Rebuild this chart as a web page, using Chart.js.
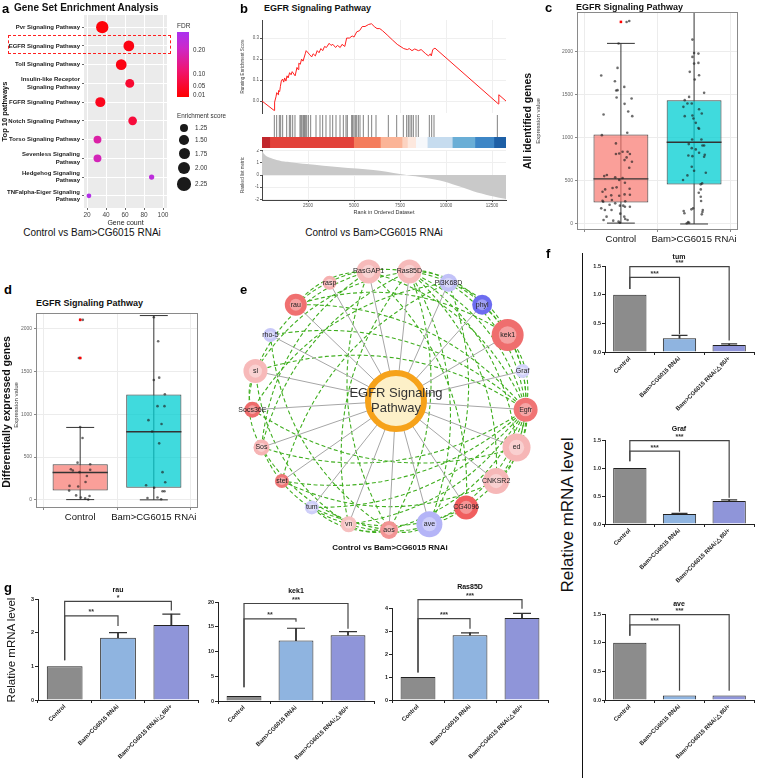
<!DOCTYPE html>
<html lang="en">
<head>
<meta charset="UTF-8">
<title>EGFR signaling pathway, Control vs Bam>CG6015 RNAi</title>
<script src="https://cdn.jsdelivr.net/npm/chart.js"></script>
<style>
  body { margin: 0; background: #fff; font-family: "Liberation Sans", Arial, sans-serif; }
  #fig { position: relative; width: 758px; height: 781px; overflow: hidden; background: #fff; }
  #fig canvas { position: absolute; }
  .t { position: absolute; white-space: nowrap; line-height: 1; color: #111; }
</style>
</head>
<body>
<div id="fig"></div>
<script>
// ---- a: gene set enrichment
const pathwayNames = [
  ['Pvr Signaling Pathway'], ['EGFR Signaling Pathway'], ['Toll Signaling Pathway'],
  ['Insulin-like Receptor', 'Signaling Pathway'], ['FGFR Signaling Pathway'], ['Notch Signaling Pathway'],
  ['Torso Signaling Pathway'], ['Sevenless Signaling', 'Pathway'], ['Hedgehog Signaling', 'Pathway'],
  ['TNFalpha-Eiger Signaling', 'Pathway']
];
const geneCount = [36, 64, 56, 65, 34, 68, 31, 31, 88, 22];
const enrichScore = [2.0, 1.7, 1.7, 1.35, 1.55, 1.3, 1.15, 1.15, 0.65, 0.55];
const fdrValue = [0.01, 0.02, 0.02, 0.05, 0.03, 0.06, 0.17, 0.19, 0.24, 0.26];
const geneCountTicks = [20, 40, 60, 80, 100];
const fdrTicks = [0.20, 0.10, 0.05, 0.01];
const sizeTicks = [1.25, 1.50, 1.75, 2.00, 2.25];

// ---- b: GSEA running score
const esRank = [0, 660, 670, 700, 760, 800, 880, 900, 960, 1000, 1050, 1120, 1180, 1230, 1300, 1360, 1420, 1500,
  1580, 1640, 1800, 1900, 1960, 2000, 2080, 2150, 2230, 2350, 2400, 2600, 2700, 2780, 2900, 3000, 3100, 3200, 3300,
  3400, 3500, 3650, 3750, 3850, 4000, 4100, 4250, 4350, 4500, 4600, 4750, 4900, 5000, 5150, 5300, 5450, 5600, 5800,
  5950, 6100, 6250, 6400, 6550, 6800, 7100, 7350, 7700, 7900, 8000, 8150, 8300, 8500, 8650, 8900, 9050, 9150, 9200,
  9280, 9400, 12850, 12870, 13260];
const esScore = [0.0, -0.045, -0.02, -0.005, 0.02, 0.04, 0.03, 0.05, 0.045, 0.07, 0.095, 0.105, 0.09, 0.11, 0.095,
  0.12, 0.11, 0.135, 0.125, 0.14, 0.12, 0.16, 0.15, 0.18, 0.175, 0.2, 0.19, 0.225, 0.24, 0.22, 0.21, 0.225, 0.215,
  0.24, 0.23, 0.25, 0.24, 0.26, 0.255, 0.275, 0.265, 0.27, 0.255, 0.265, 0.255, 0.27, 0.26, 0.3, 0.3, 0.31, 0.305,
  0.33, 0.335, 0.355, 0.355, 0.365, 0.368, 0.355, 0.345, 0.345, 0.335, 0.315, 0.29, 0.27, 0.25, 0.245, 0.25, 0.24,
  0.248, 0.24, 0.245, 0.225, 0.215, 0.225, 0.215, 0.245, 0.252, -0.014, 0.03, 0.0];
const hitRank = [670, 797, 942, 1014, 1123, 1341, 1486, 1558, 1667, 1793, 2065, 2120, 2174, 2246, 2301, 2355, 2428,
  2518, 2645, 2935, 3152, 3297, 3478, 3696, 3841, 4022, 4239, 4420, 4565, 4638, 4873, 4928, 5000, 5073, 5145, 5236,
  5326, 5507, 5779, 5960, 6196, 6866, 7319, 7681, 7862, 7953, 8043, 8134, 8225, 8370, 8496, 9094, 9221, 9348, 12790];
const bandEdge = [0, 420, 4980, 6430, 7610, 7900, 8350, 8980, 10340, 11570, 12600, 13260];
const bandColor = ['#c1272d', '#e2423a', '#f47c5c', '#fbb497', '#fcd3c1', '#fde8de', '#f6f8fb', '#c6dcef',
  '#6aaed6', '#3d86c6', '#1d5fa6'];
const metricRank = [0, 100, 300, 670, 1200, 1560, 2430, 4240, 6050, 7500, 7860, 8500, 9670, 10570, 11480, 12390, 13260];
const metricValue = [2.0, 1.75, 1.5, 1.3, 1.1, 1.05, 0.9, 0.63, 0.4, 0.08, 0.0, -0.15, -0.46, -0.87, -1.33, -1.7, -1.96];
const rankTicks = [2500, 5000, 7500, 10000, 12500];
const esTicks = [0, 0.1, 0.2, 0.3];
const metricTicks = [-2, -1, 0, 1, 2];

// ---- c / d: expression box plots
const boxGroups = ['Control', 'Bam>CG6015 RNAi'];
const allQ1 = [250, 460], allMedian = [525, 950], allQ3 = [1040, 1440], allLow = [10, 0], allHigh = [2100, 2480];
const allCtrlValue = [2349, 2361, 2098, 1815, 1726, 1660, 1594, 1556, 1552, 1471, 1459, 1397, 1308, 1273, 1254,
  1060, 1033, 937, 840, 840, 820, 813, 813, 774, 743, 724, 654, 569, 557, 542, 534, 511, 480, 426, 418, 410, 402,
  375, 344, 340, 333, 329, 317, 279, 271, 263, 259, 240, 224, 213, 201, 201, 213, 182, 163, 163, 120, 85, 85, 58,
  46, 46, 39, 27, 15];
const allCtrlJitter = [0.078, 0.114, -0.032, -0.046, -0.269, -0.082, 0.046, -0.046, -0.064, -0.059, 0.146, 0.05,
  0.1, -0.237, 0.155, 0.087, -0.26, -0.068, 0.023, 0.091, -0.023, -0.068, 0.123, 0.078, 0.05, 0.151, 0.114, -0.192,
  -0.228, -0.078, 0.023, -0.023, 0.055, -0.059, -0.114, 0.119, -0.215, -0.251, 0.05, 0.123, -0.132, -0.023, -0.205,
  -0.123, -0.251, 0.059, -0.242, -0.078, -0.155, 0.032, 0.055, 0.123, -0.014, -0.269, -0.128, -0.219, -0.009,
  -0.196, 0.046, 0.059, 0.091, -0.237, -0.105, -0.032, -0.014];
const allBamValue = [2144, 1989, 1981, 1943, 1865, 1873, 1769, 1730, 1680, 1525, 1478, 1440, 1362, 1401, 1401, 1335,
  1285, 1254, 1262, 1227, 1176, 1115, 1107, 983, 983, 929, 913, 913, 882, 867, 828, 797, 789, 805, 782, 666, 619,
  596, 565, 511, 472, 461, 402, 364, 317, 267, 182, 170, 163, 151, 124, 112, 139, 23, 15, 8];
const allBamJitter = [-0.023, 0, 0.059, -0.023, 0, 0.059, -0.059, 0.068, 0.009, 0.137, -0.068, -0.128, -0.146,
  -0.091, -0.032, 0.068, 0.105, -0.128, -0.023, -0.009, 0.023, 0.059, 0.068, 0.1, -0.027, -0.073, 0.114, 0.137,
  -0.032, 0.023, 0.068, -0.078, -0.023, 0.146, 0.137, -0.032, 0, 0.16, -0.091, -0.151, 0.11, 0.091, 0.091, 0.064,
  0.091, 0.096, -0.014, -0.037, 0.119, -0.142, -0.132, 0.105, 0.114, -0.082, -0.068, -0.1];
const allOutlier = [2350];
const allTicks = [0, 500, 1000, 1500, 2000];

const degQ1 = [110, 142], degMedian = [320, 795], degQ3 = [415, 1228], degLow = [3, 0], degHigh = [845, 2150];
const degCtrlValue = [2100, 2100, 1655, 1655, 850, 722, 434, 416, 357, 343, 323, 350, 278, 208, 163, 156, 108, 52, 45, 28, 17, 3];
const degCtrlJitter = [0, 0.036, -0.018, 0, 0, 0.032, -0.036, 0.136, -0.127, -0.1, -0.009, 0.136, 0.091, 0.073,
  -0.145, -0.027, -0.15, -0.055, 0.127, 0.009, 0.068, 0.109];
const degBamValue = [2130, 1850, 1398, 1426, 1232, 1093, 1093, 930, 885, 798, 659, 323, 205, 170, 142, 100, 100, 21, 28, 7];
const degBamJitter = [0, 0.059, 0, 0.073, 0.15, 0.05, 0.145, -0.073, 0.105, -0.023, 0.073, 0.118, 0.155, -0.105,
  0.005, 0.118, 0.145, -0.086, 0.05, 0.1];
const degOutlier = [2100, 1655];

// ---- e: network (alphabetical circular layout)
const geneNodes = ['aos', 'ave', 'CG4096', 'CNKSR2', 'ed', 'Egfr', 'Graf', 'kek1', 'phyl', 'Pi3K68D', 'Ras85D',
  'RasGAP1', 'rasp', 'rau', 'rho-5', 'sl', 'Socs36E', 'Sos', 'stet', 'tum', 'vn'];
const nodeSize = [9, 13, 12, 13, 14, 12, 7, 16, 10, 9, 12, 12, 7, 11, 7, 12, 8, 8, 7, 7, 8];
const nodeColor = ['#f29494', '#b4b4f7', '#f05e5e', '#f6b8b8', '#f6b6b6', '#f07474', '#d2d2fa', '#ef6e6e',
  '#6c6cf0', '#c2c2f8', '#f6baba', '#f6baba', '#f6b0b0', '#f07070', '#c8c8f8', '#f7b9b9', '#ee6c6c', '#f6b4b4',
  '#ef7878', '#cfcff9', '#f6c0c0'];
const greenEdges = [
  ['Egfr', 'kek1'], ['Egfr', 'phyl'], ['Egfr', 'Pi3K68D'], ['Egfr', 'Ras85D'], ['Egfr', 'RasGAP1'], ['Egfr', 'rau'],
  ['Egfr', 'rho-5'], ['Egfr', 'sl'], ['Egfr', 'Sos'], ['Egfr', 'stet'], ['Egfr', 'tum'], ['Egfr', 'vn'],
  ['Egfr', 'aos'], ['Egfr', 'ave'], ['Egfr', 'CG4096'], ['Egfr', 'CNKSR2'], ['Egfr', 'ed'],
  ['Ras85D', 'rau'], ['Ras85D', 'sl'], ['Ras85D', 'Sos'], ['Ras85D', 'CNKSR2'], ['Ras85D', 'ave'], ['Ras85D', 'kek1'],
  ['Ras85D', 'Pi3K68D'], ['Ras85D', 'aos'], ['Ras85D', 'vn'], ['Ras85D', 'phyl'], ['Ras85D', 'ed'],
  ['RasGAP1', 'Sos'], ['RasGAP1', 'sl'], ['RasGAP1', 'rau'], ['RasGAP1', 'aos'], ['RasGAP1', 'CG4096'],
  ['Pi3K68D', 'Socs36E'], ['Pi3K68D', 'stet'], ['Pi3K68D', 'kek1'], ['Pi3K68D', 'ave'],
  ['sl', 'Sos'], ['sl', 'Socs36E'], ['sl', 'vn'], ['Sos', 'vn'], ['Sos', 'aos'], ['aos', 'vn'], ['aos', 'ave'],
  ['aos', 'tum'], ['vn', 'CG4096'], ['ed', 'CNKSR2'], ['ed', 'kek1'], ['rho-5', 'aos'], ['rau', 'kek1'],
  ['stet', 'CNKSR2'], ['tum', 'CG4096'], ['Socs36E', 'ed']
];

// ---- f / g: qPCR
const qpcrGroups = ['Control', 'Bam>CG6015 RNAi', 'Bam>CG6015 RNAi;\u25b386/+'];
const tumLevel = [1.0, 0.24, 0.12], tumErr = [0, 0.05, 0.02];
const grafLevel = [1.0, 0.18, 0.41], grafErr = [0, 0.01, 0.02];
const aveLevel = [1.0, 0.08, 0.08], aveErr = [0, 0, 0];
const rauLevel = [1.0, 1.85, 2.23], rauErr = [0, 0.15, 0.32];
const kek1Level = [1.0, 12.2, 13.3], kek1Err = [0, 2.5, 0.7];
const ras85DLevel = [1.0, 2.82, 3.57], ras85DErr = [0, 0.1, 0.2];

// ---------------------------------------------------------------
Chart.defaults.animation = false;
Chart.defaults.responsive = false;
Chart.defaults.maintainAspectRatio = false;
Chart.defaults.events = [];
Chart.defaults.plugins.legend.display = false;
Chart.defaults.plugins.tooltip.enabled = false;
Chart.defaults.font.family = "'Liberation Sans', Arial, sans-serif";
Chart.defaults.color = '#222';
Chart.defaults.layout.autoPadding = false;

Chart.register({
  id: 'plotBg',
  beforeDraw(chart, args, opts) {
    if (!opts.color) return;
    const a = chart.chartArea, ctx = chart.ctx;
    ctx.save(); ctx.fillStyle = opts.color; ctx.fillRect(a.left, a.top, a.width, a.height); ctx.restore();
  }
});
Chart.register({
  id: 'frame',
  afterDatasetsDraw(chart, args, opts) {
    if (!opts.color) return;
    const a = chart.chartArea, ctx = chart.ctx;
    ctx.save(); ctx.strokeStyle = opts.color; ctx.lineWidth = 1;
    ctx.strokeRect(Math.round(a.left) + 0.5, Math.round(a.top) + 0.5, Math.round(a.width) - 1, Math.round(a.height) - 1);
    ctx.restore();
  }
});
Chart.register({
  id: 'notes',
  afterDatasetsDraw(chart, args, opts) {
    const items = opts.items || [];
    const ctx = chart.ctx, xs = chart.scales.x, ys = chart.scales.y;
    ctx.save();
    items.forEach(n => {
      ctx.font = n.font || "bold 7px 'Liberation Sans', Arial";
      ctx.fillStyle = n.color || '#222';
      ctx.textAlign = 'center';
      ctx.textBaseline = 'middle';
      const px = xs.getPixelForValue(n.x), py = ys.getPixelForValue(n.y) + (n.dy || 0);
      const lines = [].concat(n.text);
      const lh = n.lh || 0;
      lines.forEach((s, k) => ctx.fillText(s, px, py + (k - (lines.length - 1) / 2) * lh));
    });
    ctx.restore();
  }
});

const fig = document.getElementById('fig');
function cv(left, top, w, h) {
  const c = document.createElement('canvas');
  c.width = w; c.height = h;
  c.style.left = left + 'px'; c.style.top = top + 'px';
  fig.appendChild(c);
  return c;
}
function txt(x, y, s, css, anchor) {
  const d = document.createElement('div');
  d.className = 't';
  d.textContent = s;
  d.style.cssText += css;
  d.style.left = x + 'px';
  d.style.top = y + 'px';
  d.style.transform = {
    l: 'translate(0,-50%)', c: 'translate(-50%,-50%)', r: 'translate(-100%,-50%)',
    v: 'translate(-50%,-50%) rotate(-90deg)'
  }[anchor || 'l'];
  fig.appendChild(d);
  return d;
}
function box(x, y, w, h, css) {
  const d = document.createElement('div');
  d.style.cssText = 'position:absolute;left:' + x + 'px;top:' + y + 'px;width:' + w + 'px;height:' + h + 'px;' + css;
  fig.appendChild(d);
}
const fixedTicks = list => s => { s.ticks = list.map(v => ({ value: v })); };
// pin axis sizes so the plot areas land where the figure has them
const fixW = w => s => { s.width = w; s.paddingTop = 0; s.paddingBottom = 0; };
const fixH = h => s => { s.height = h; s.paddingLeft = 0; s.paddingRight = 0; };
const plain = v => String(v);

// ================= a =================
const fdrMin = 0.0016, fdrMax = 0.276;
const fdrStops = [[0, [255, 0, 0]], [0.4, [240, 20, 110]], [0.75, [205, 40, 200]], [1, [170, 50, 240]]];
function fdrColor(f) {
  const t = Math.max(0, Math.min(1, (f - fdrMin) / (fdrMax - fdrMin)));
  for (let i = 1; i < fdrStops.length; i++) {
    if (t <= fdrStops[i][0]) {
      const [t0, c0] = fdrStops[i - 1], [t1, c1] = fdrStops[i];
      const u = (t - t0) / (t1 - t0);
      return 'rgb(' + c0.map((c, k) => Math.round(c + (c1[k] - c) * u)).join(',') + ')';
    }
  }
  return 'rgb(170,50,240)';
}
const sizeOf = s => 4.2 + (s - 1.25) * 2.6;

new Chart(cv(0, 12, 172, 215), {
  type: 'bubble',
  data: {
    datasets: [{
      data: geneCount.map((g, i) => ({ x: g, y: i, r: sizeOf(enrichScore[i]) })),
      backgroundColor: fdrValue.map(fdrColor),
      borderWidth: 0
    }]
  },
  options: {
    layout: { padding: { top: 3, right: 5, bottom: 0, left: 0 } },
    plugins: { plotBg: { color: '#ebebeb' } },
    scales: {
      x: {
        type: 'linear', min: 16.8, max: 104.2,
        afterBuildTicks: fixedTicks(geneCountTicks),
        afterFit: fixH(19),
        grid: { color: '#ffffff', tickLength: 2, tickColor: '#666' },
        border: { display: false },
        ticks: { font: { size: 6.5 }, color: '#444', padding: 1 },
        title: { display: true, text: 'Gene count', font: { size: 7 }, padding: 0, color: '#222' }
      },
      y: {
        type: 'linear', reverse: true, min: -0.65, max: 9.65,
        afterBuildTicks: fixedTicks(pathwayNames.map((p, i) => i)),
        afterFit: fixW(84),
        grid: { color: '#ffffff', tickLength: 2, tickColor: '#666' },
        border: { display: false },
        ticks: { font: { size: 6, weight: 'bold' }, color: '#222', padding: 2, callback: v => pathwayNames[v] },
        title: { display: true, text: 'Top 10 pathways', font: { size: 7.5, weight: 'bold' }, padding: 0, color: '#111' }
      }
    }
  }
});

// ================= b =================
const bLeft = 240, bWidth = 270, bAxisW = 22;
new Chart(cv(bLeft, 18, bWidth, 97), {
  type: 'line',
  data: { datasets: [{ data: esRank.map((r, i) => ({ x: r, y: esScore[i] })), borderColor: '#ff1f1f', borderWidth: 1, pointRadius: 0, tension: 0 }] },
  options: {
    layout: { padding: { top: 2, right: 4, bottom: 2, left: 0 } },
    scales: {
      x: {
        type: 'linear', min: 0, max: 13260, afterBuildTicks: fixedTicks(rankTicks), afterFit: fixH(0),
        ticks: { display: false }, grid: { color: '#efefef', drawTicks: false }, border: { display: false }
      },
      y: {
        min: -0.057, max: 0.386, afterBuildTicks: fixedTicks(esTicks), afterFit: fixW(bAxisW),
        ticks: { font: { size: 4.5 }, color: '#555', padding: 1, callback: v => v.toFixed(1) },
        grid: { color: '#efefef', tickLength: 2, tickColor: '#555' }, border: { display: true, color: '#444' },
        title: { display: true, text: 'Running Enrichment Score', font: { size: 4.5 }, padding: 0, color: '#444' }
      }
    }
  }
});
new Chart(cv(bLeft, 115, bWidth, 22), {
  type: 'scatter',
  data: { datasets: [{ data: hitRank.map(r => ({ x: r, y: 0 })), pointStyle: 'line', rotation: 90, pointRadius: 11, borderColor: 'rgba(30,30,30,0.7)', borderWidth: 0.8 }] },
  options: {
    layout: { padding: { top: 0, right: 4, bottom: 0, left: bAxisW } },
    scales: { x: { type: 'linear', min: 0, max: 13260, display: false }, y: { min: -1, max: 1, display: false } }
  }
});
new Chart(cv(bLeft, 137, bWidth, 11), {
  type: 'bar',
  data: {
    labels: ['band'],
    datasets: bandColor.map((c, i) => ({ data: [[bandEdge[i], bandEdge[i + 1]]], backgroundColor: c, borderWidth: 0, grouped: false, categoryPercentage: 1, barPercentage: 1 }))
  },
  options: {
    indexAxis: 'y',
    layout: { padding: { top: 0, right: 4, bottom: 0, left: bAxisW } },
    scales: { x: { type: 'linear', min: 0, max: 13260, display: false }, y: { display: false } }
  }
});
new Chart(cv(bLeft, 149, bWidth, 68), {
  type: 'line',
  data: { datasets: [{ data: metricRank.map((r, i) => ({ x: r, y: metricValue[i] })), fill: 'origin', backgroundColor: '#c9c9c9', borderWidth: 0, pointRadius: 0, tension: 0.3 }] },
  options: {
    layout: { padding: { top: 1, right: 4, bottom: 0, left: 0 } },
    scales: {
      x: {
        type: 'linear', min: 0, max: 13260, afterBuildTicks: fixedTicks(rankTicks), afterFit: fixH(17),
        ticks: { font: { size: 4.5 }, color: '#555', padding: 1, callback: plain },
        grid: { color: '#efefef', tickLength: 2, tickColor: '#555' }, border: { display: true, color: '#444' },
        title: { display: true, text: 'Rank in Ordered Dataset', font: { size: 5.5 }, padding: 1, color: '#333' }
      },
      y: {
        min: -2.05, max: 2.05, afterBuildTicks: fixedTicks(metricTicks), afterFit: fixW(bAxisW),
        ticks: { font: { size: 4.5 }, color: '#555', padding: 1 },
        grid: { color: '#efefef', tickLength: 2, tickColor: '#555' }, border: { display: true, color: '#444' },
        title: { display: true, text: 'Ranked list metric', font: { size: 4.5 }, padding: 0, color: '#444' }
      }
    }
  }
});

// ================= c / d box plots =================
const boxFill = ['rgba(248,118,109,0.7)', 'rgba(0,206,210,0.75)'];
function boxPanel(canvas, st, pad, yMin, yMax, ticks, yW, xH) {
  const ds = [];
  boxGroups.forEach((g, i) => {
    const x = i + 1;
    ds.push({ type: 'line', data: [{ x, y: st.low[i] }, { x, y: st.high[i] }], borderColor: '#333', borderWidth: 1, pointRadius: 0, order: 5 });
    [st.low[i], st.high[i]].forEach(v => ds.push({ type: 'line', data: [{ x: x - 0.19, y: v }, { x: x + 0.19, y: v }], borderColor: '#333', borderWidth: 1, pointRadius: 0, order: 5 }));
    ds.push({ type: 'line', data: [{ x: x - 0.375, y: st.med[i] }, { x: x + 0.375, y: st.med[i] }], borderColor: '#333', borderWidth: 1.4, pointRadius: 0, order: 2 });
  });
  ds.push({
    type: 'bar', data: boxGroups.map((g, i) => ({ x: i + 1, y: [st.q1[i], st.q3[i]] })),
    backgroundColor: boxFill, borderColor: '#444', borderWidth: 1, borderSkipped: false,
    barPercentage: 0.75, categoryPercentage: 1, order: 3
  });
  const pts = st.ctrl.map((v, k) => ({ x: 1 + st.ctrlJit[k], y: v }))
    .concat(st.bam.map((v, k) => ({ x: 2 + st.bamJit[k], y: v })));
  ds.push({ type: 'scatter', data: pts, pointRadius: 1.3, backgroundColor: 'rgba(30,30,30,0.65)', borderWidth: 0, order: 1 });
  ds.push({ type: 'scatter', data: st.out.map(v => ({ x: 1, y: v })), pointStyle: 'rect', pointRadius: 1.8, backgroundColor: '#ff0000', borderWidth: 0, order: 0 });
  return new Chart(canvas, {
    type: 'bar',
    data: { datasets: ds },
    options: {
      layout: { padding: pad },
      plugins: { frame: { color: '#8a8a8a' } },
      scales: {
        x: {
          type: 'linear', min: 0.4, max: 2.6, offset: false, afterBuildTicks: fixedTicks([1, 2]), afterFit: fixH(xH),
          ticks: { font: { size: 9.5 }, color: '#111', padding: 2, callback: v => boxGroups[v - 1] },
          grid: { color: '#ececec', tickLength: 2, tickColor: '#888' }, border: { display: false }
        },
        y: {
          min: yMin, max: yMax, afterBuildTicks: fixedTicks(ticks), afterFit: fixW(yW),
          ticks: { font: { size: 5 }, color: '#666', padding: 2, callback: plain },
          grid: { color: '#ececec', tickLength: 2, tickColor: '#888' }, border: { display: false }
        }
      }
    }
  });
}
boxPanel(cv(520, 8, 238, 240), {
  q1: allQ1, med: allMedian, q3: allQ3, low: allLow, high: allHigh,
  ctrl: allCtrlValue, ctrlJit: allCtrlJitter, bam: allBamValue, bamJit: allBamJitter, out: allOutlier
}, { top: 4, right: 20, bottom: 0, left: 0 }, -70, 2465, allTicks, 57, 18);
boxPanel(cv(0, 308, 205, 218), {
  q1: degQ1, med: degMedian, q3: degQ3, low: degLow, high: degHigh,
  ctrl: degCtrlValue, ctrlJit: degCtrlJitter, bam: degBamValue, bamJit: degBamJitter, out: degOutlier
}, { top: 5, right: 7, bottom: 0, left: 0 }, -95, 2180, allTicks, 36, 18);

// ================= e network =================
const step = 360 / geneNodes.length;
const nodePos = geneNodes.map((g, i) => {
  const a = (-90 + i * step) * Math.PI / 180;
  return { x: 137 * Math.cos(a), y: 130 * Math.sin(a) };
});
const hub = { x: 7, y: -1 };
const posOf = name => nodePos[geneNodes.indexOf(name)];
function arcPoints(a, b) {
  const mx = (a.x + b.x) / 2, my = (a.y + b.y) / 2;
  const dx = b.x - a.x, dy = b.y - a.y, len = Math.hypot(dx, dy);
  let nx = -dy / len, ny = dx / len;
  if (nx * mx + ny * my < 0) { nx = -nx; ny = -ny; }
  const cx = mx + nx * 0.24 * len, cy = my + ny * 0.24 * len;
  const pts = [];
  for (let k = 0; k <= 16; k++) {
    const t = k / 16, u = 1 - t;
    pts.push({ x: u * u * a.x + 2 * u * t * cx + t * t * b.x, y: u * u * a.y + 2 * u * t * cy + t * t * b.y });
  }
  return pts;
}
function lighten(hex, f) {
  const n = parseInt(hex.slice(1), 16);
  const c = [n >> 16, (n >> 8) & 255, n & 255].map(v => Math.round(v + (255 - v) * f));
  return 'rgb(' + c.join(',') + ')';
}
const netSets = [];
greenEdges.forEach(([p, q]) => netSets.push({
  type: 'line', data: arcPoints(posOf(p), posOf(q)), borderColor: '#3fae1e', borderWidth: 1.1,
  borderDash: [4, 2.5], pointRadius: 0, tension: 0, clip: false, order: 6
}));
nodePos.forEach(p => netSets.push({
  type: 'line', data: [hub, p], borderColor: '#a6a6a6', borderWidth: 1, pointRadius: 0, order: 5
}));
netSets.push({ type: 'bubble', data: nodePos.map((p, i) => ({ x: p.x, y: p.y, r: nodeSize[i] })), backgroundColor: nodeColor, borderWidth: 0, clip: false, order: 3 });
netSets.push({ type: 'bubble', data: nodePos.map((p, i) => ({ x: p.x, y: p.y, r: nodeSize[i] * 0.55 })), backgroundColor: nodeColor.map(c => lighten(c, 0.35)), borderWidth: 0, clip: false, order: 2 });
netSets.push({ type: 'bubble', data: [{ x: hub.x, y: hub.y, r: 28 }], backgroundColor: '#fdf0c8', borderColor: '#f6a21a', borderWidth: 6, order: 1 });
const netNotes = nodePos.map((p, i) => ({ x: p.x, y: p.y, text: geneNodes[i], font: "7px 'Liberation Sans', Arial", color: '#222' }));
netNotes.push({ x: hub.x, y: hub.y, text: ['EGFR Signaling', 'Pathway'], lh: 15, font: "13px 'Liberation Sans', Arial", color: '#333' });
new Chart(cv(238, 256, 306, 290), {
  type: 'bubble',
  data: { datasets: netSets },
  options: {
    layout: { padding: 0 },
    plugins: { notes: { items: netNotes } },
    scales: { x: { type: 'linear', min: -151, max: 155, display: false }, y: { type: 'linear', min: -146, max: 144, display: false } }
  }
});

// ================= f / g qPCR bars =================
const qpcrFill = ['#8c8c8c', '#8fb4e0', '#8f95d9'];
function qpcr(canvas, vals, errs, brackets, yMax, yStep, dec, yW, pad, xH, capR) {
  const ds = [
    { type: 'bar', data: vals, backgroundColor: qpcrFill, borderColor: '#222', borderWidth: 1, categoryPercentage: 0.67, barPercentage: 1, grouped: false, order: 4 },
    { type: 'bar', data: vals.map((v, i) => errs[i] > 0 ? [v, v + errs[i]] : null), backgroundColor: '#333', barThickness: 1.2, grouped: false, order: 3 },
    { type: 'scatter', data: vals.map((v, i) => ({ x: qpcrGroups[i], y: v + errs[i] })).filter((p, i) => errs[i] > 0), pointStyle: 'line', pointRadius: capR, borderColor: '#333', borderWidth: 1.2, order: 2 }
  ];
  const notes = [];
  brackets.forEach(b => {
    ds.push({
      type: 'line', data: [{ x: qpcrGroups[0], y: b.from }, { x: qpcrGroups[0], y: b.top }, { x: qpcrGroups[b.to], y: b.top }, { x: qpcrGroups[b.to], y: b.end }],
      borderColor: '#444', borderWidth: 1.2, pointRadius: 0, tension: 0, clip: false, order: 1
    });
    notes.push({ x: b.to / 2, y: b.top, dy: -3.5, text: b.label, font: "bold 7px 'Liberation Sans', Arial", color: '#333' });
  });
  const ticks = [];
  for (let v = 0; v <= yMax + 1e-9; v += yStep) ticks.push(v);
  return new Chart(canvas, {
    type: 'bar',
    data: { labels: qpcrGroups, datasets: ds },
    options: {
      layout: { padding: pad },
      plugins: { notes: { items: notes } },
      scales: {
        x: {
          afterFit: fixH(xH),
          ticks: { font: { size: 6, weight: 'bold' }, color: '#222', minRotation: 45, maxRotation: 45, autoSkip: false, padding: 0 },
          grid: { drawOnChartArea: false, tickLength: 3, tickColor: '#222' }, border: { display: true, color: '#222' }
        },
        y: {
          min: 0, max: yMax, afterBuildTicks: fixedTicks(ticks), afterFit: fixW(yW),
          ticks: { font: { size: 5.5, weight: 'bold' }, color: '#222', padding: 1, callback: v => v.toFixed(dec) },
          grid: { drawOnChartArea: false, tickLength: 3, tickColor: '#222' }, border: { display: true, color: '#222' }
        }
      }
    }
  });
}
qpcr(cv(585, 255, 173, 170), tumLevel, tumErr, [
  { to: 1, from: 1.1, top: 1.3, end: 0.31, label: '***' },
  { to: 2, from: 1.1, top: 1.49, end: 0.2, label: '***' }
], 1.5, 0.5, 1, 20, { top: 11, right: 4, bottom: 0, left: 0 }, 73, 8);
qpcr(cv(585, 429, 173, 168), grafLevel, grafErr, [
  { to: 1, from: 1.12, top: 1.3, end: 0.22, label: '***' },
  { to: 2, from: 1.12, top: 1.49, end: 0.47, label: '***' }
], 1.5, 0.5, 1, 20, { top: 11, right: 4, bottom: 0, left: 0 }, 73, 8);
qpcr(cv(585, 603, 173, 170), aveLevel, aveErr, [
  { to: 1, from: 1.12, top: 1.31, end: 0.16, label: '***' },
  { to: 2, from: 1.12, top: 1.49, end: 0.16, label: '***' }
], 1.5, 0.5, 1, 20, { top: 11, right: 4, bottom: 0, left: 0 }, 73, 8);
qpcr(cv(22, 578, 180, 200), rauLevel, rauErr, [
  { to: 1, from: 1.18, top: 2.5, end: 2.2, label: '**' },
  { to: 2, from: 1.18, top: 2.93, end: 2.66, label: '*' }
], 3, 1, 0, 16, { top: 21, right: 4, bottom: 0, left: 0 }, 78, 9);
qpcr(cv(200, 578, 178, 201), kek1Level, kek1Err, [
  { to: 1, from: 2.8, top: 16.6, end: 16.0, label: '**' },
  { to: 2, from: 2.8, top: 19.7, end: 14.6, label: '***' }
], 20, 5, 0, 18, { top: 24, right: 4, bottom: 0, left: 0 }, 78, 9);
qpcr(cv(372, 578, 180, 200), ras85DLevel, ras85DErr, [
  { to: 1, from: 1.2, top: 3.54, end: 3.1, label: '***' },
  { to: 2, from: 1.2, top: 4.36, end: 3.97, label: '***' }
], 4, 1, 0, 20, { top: 30, right: 4, bottom: 0, left: 0 }, 78, 9);

// ================= text =================
const letter = 'font-weight:bold;font-size:13px;color:#000;';
const heading = 'font-weight:bold;font-size:9px;color:#111;';
txt(2, 8, 'a', letter);
txt(14, 8, 'Gene Set Enrichment Analysis', 'font-weight:bold;font-size:10px;');
txt(92, 233, 'Control vs Bam>CG6015 RNAi', 'font-size:10px;', 'c');
box(8, 35, 163, 19, 'border:1.3px dashed #ff2020;box-sizing:border-box;');
txt(177, 26, 'FDR', 'font-size:6.5px;color:#333;');
const fdrTop = 32, fdrBottom = 97;
const fdrY = f => fdrBottom - (f - fdrMin) / (fdrMax - fdrMin) * (fdrBottom - fdrTop);
box(177, fdrTop, 12, fdrBottom - fdrTop, 'background:linear-gradient(to top,' +
  fdrStops.map(s => 'rgb(' + s[1].join(',') + ') ' + (s[0] * 100) + '%').join(',') + ');');
fdrTicks.forEach(f => txt(193, fdrY(f), f.toFixed(2), 'font-size:6.3px;color:#333;'));
txt(177, 116, 'Enrichment score', 'font-size:6.3px;color:#333;');
let sy = 124;
sizeTicks.forEach((s, i) => {
  const r = sizeOf(s);
  if (i > 0) sy += r + sizeOf(sizeTicks[i - 1]) + 3; else sy += r;
  box(184 - r, sy - r, 2 * r, 2 * r, 'border-radius:50%;background:#1a1a1a;');
  txt(195, sy, s.toFixed(2), 'font-size:6.3px;color:#333;');
});

txt(240, 8, 'b', letter);
txt(264, 8, 'EGFR Signaling Pathway', heading);
txt(374, 233, 'Control vs Bam>CG6015 RNAi', 'font-size:10px;', 'c');

txt(545, 7, 'c', letter);
txt(576, 7, 'EGFR Signaling Pathway', heading);
txt(527, 121, 'All identified genes', 'font-weight:bold;font-size:10.5px;', 'v');
txt(538, 121, 'Expression value', 'font-size:6px;color:#333;', 'v');

txt(4, 289, 'd', letter);
txt(36, 303, 'EGFR Signaling Pathway', heading);
txt(6, 412, 'Differentially expressed genes', 'font-weight:bold;font-size:10.5px;', 'v');
txt(16, 405, 'Expression value', 'font-size:6px;color:#333;', 'v');

txt(240, 289, 'e', letter);
txt(390, 548, 'Control vs Bam>CG6015 RNAi', 'font-weight:bold;font-size:8px;', 'c');

txt(546, 253, 'f', letter);
box(582, 253, 1, 525, 'background:#111;');
txt(567, 515, 'Relative mRNA level', 'font-size:17px;', 'v');
txt(679, 256, 'tum', 'font-weight:bold;font-size:7px;', 'c');
txt(679, 428, 'Graf', 'font-weight:bold;font-size:7px;', 'c');
txt(679, 603, 'ave', 'font-weight:bold;font-size:7px;', 'c');

txt(4, 587, 'g', letter);
txt(12, 650, 'Relative mRNA level', 'font-size:11.5px;', 'v');
txt(118, 589, 'rau', 'font-weight:bold;font-size:7px;', 'c');
txt(296, 590, 'kek1', 'font-weight:bold;font-size:7px;', 'c');
txt(470, 586, 'Ras85D', 'font-weight:bold;font-size:7px;', 'c');
</script>
</body>
</html>
